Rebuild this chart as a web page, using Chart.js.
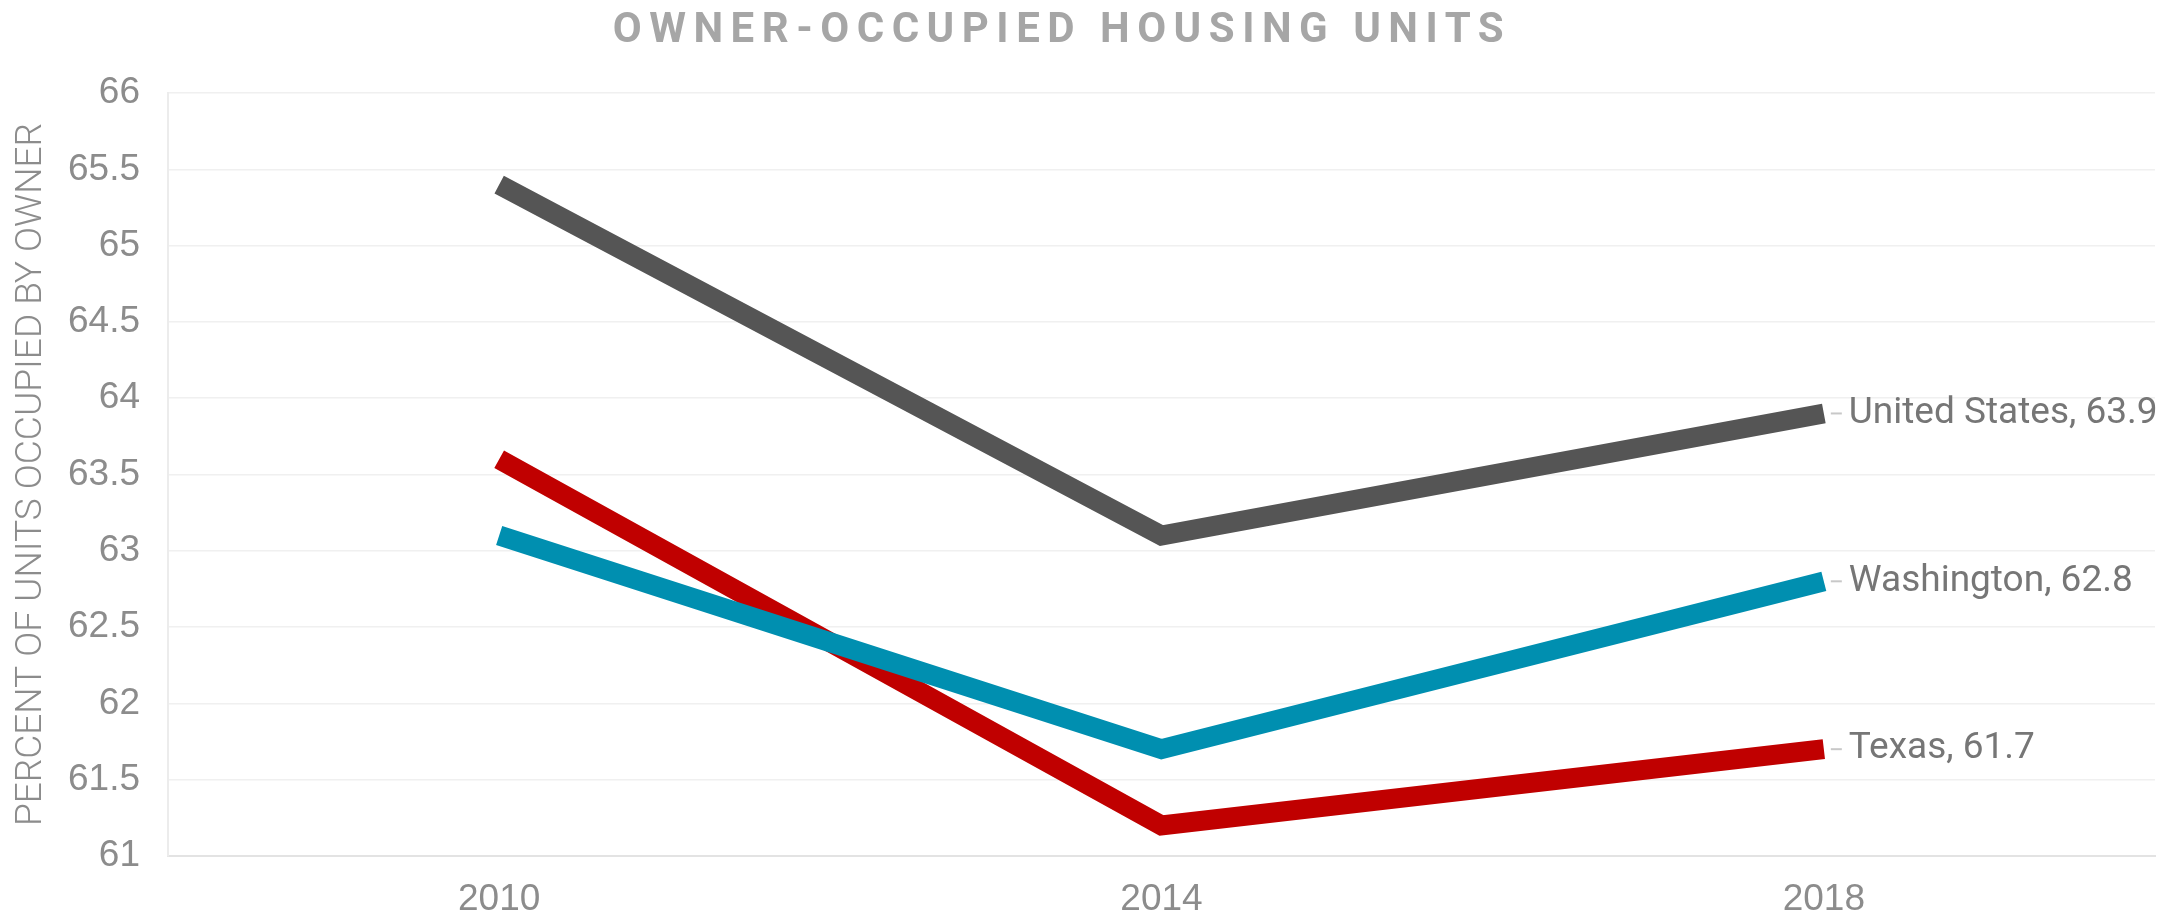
<!DOCTYPE html>
<html lang="en">
<head>
    <meta charset="UTF-8">
    <title>Owner-Occupied Housing Units</title>
    <script src="https://cdn.jsdelivr.net/npm/chart.js"></script>
    <style>
        body {
            margin: 0;
            background: #fff;
        }
        .wrap {
            position: relative;
            width: 2183px;
            height: 921px;
        }
        .chart-title {
            position: absolute;
            left: 0;
            top: 3px;
            width: 2124px;
            text-align: center;
            font-family: Roboto, sans-serif;
            font-weight: 700;
            font-size: 42px;
            letter-spacing: 7.5px;
            color: #a6a6a6;
        }
        canvas {
            position: absolute;
            left: 0;
            top: 0;
        }
    </style>
</head>
<body>
    <div class="wrap">
        <canvas id="housingChart" width="2183" height="921"></canvas>
        <div class="chart-title">OWNER-OCCUPIED HOUSING UNITS</div>
    </div>

    <script>
        const years = ['2010', '2014', '2018'];
        const unitedStates = [65.4, 63.1, 63.9];
        const washington = [63.1, 61.7, 62.8];
        const texas = [63.6, 61.2, 61.7];
        const yTickLabels = ['61', '61.5', '62', '62.5', '63', '63.5', '64', '64.5', '65', '65.5', '66'];
        const yMin = 61, yMax = 66, yStep = 0.5;

        // label at the end of each line, with a short leader
        const endLabels = {
            id: 'endLabels',
            afterDatasetsDraw(chart) {
                const ctx = chart.ctx;
                ctx.save();
                ctx.font = '37px Roboto';
                ctx.fillStyle = '#767676';
                ctx.strokeStyle = '#c8c8c8';
                ctx.lineWidth = 2;
                ctx.textBaseline = 'middle';
                chart.data.datasets.forEach((ds, i) => {
                    const pts = chart.getDatasetMeta(i).data;
                    const pt = pts[pts.length - 1];
                    const last = ds.data[ds.data.length - 1];
                    ctx.beginPath();
                    ctx.moveTo(pt.x + 7, pt.y);
                    ctx.lineTo(pt.x + 18, pt.y);
                    ctx.stroke();
                    ctx.fillText(ds.label + ', ' + last, pt.x + 25, pt.y);
                });
                ctx.restore();
            }
        };

        const lineStyle = {
            borderWidth: 20,
            pointRadius: 0,
            tension: 0,
            fill: false,
            borderJoinStyle: 'miter',
            borderCapStyle: 'butt'
        };

        const tickFont = { family: 'Liberation Sans', size: 37 };

        new Chart(document.getElementById('housingChart'), {
            type: 'line',
            data: {
                labels: years,
                datasets: [
                    { label: 'United States', data: unitedStates, borderColor: '#555555', ...lineStyle },
                    { label: 'Washington', data: washington, borderColor: '#008fb0', ...lineStyle },
                    { label: 'Texas', data: texas, borderColor: '#c00000', ...lineStyle }
                ]
            },
            options: {
                responsive: false,
                animation: false,
                devicePixelRatio: 1,
                layout: { padding: { top: 93, right: 28, bottom: 0, left: 0 } },
                plugins: {
                    legend: { display: false },
                    tooltip: { enabled: false }
                },
                scales: {
                    x: {
                        offset: true,
                        grid: { display: false },
                        border: { color: '#e3e3e3', width: 2 },
                        ticks: { color: '#8c8c8c', font: tickFont, padding: 14 },
                        afterFit(scale) { scale.height = 65; }
                    },
                    y: {
                        min: yMin,
                        max: yMax,
                        grid: { color: '#f0f0f0', lineWidth: 1.5, drawTicks: false },
                        border: { color: '#ececec', width: 2 },
                        ticks: {
                            stepSize: yStep,
                            color: '#8c8c8c',
                            font: tickFont,
                            padding: 28,
                            callback: (v, i) => yTickLabels[i]
                        },
                        title: {
                            display: true,
                            text: 'PERCENT OF UNITS OCCUPIED BY OWNER',
                            color: '#8c8c8c',
                            font: { family: 'Roboto', size: 37, weight: 300 },
                            padding: { top: 10, bottom: 0 }
                        },
                        afterFit(scale) { scale.width = 168; }
                    }
                }
            },
            plugins: [endLabels]
        });
    </script>
</body>
</html>
